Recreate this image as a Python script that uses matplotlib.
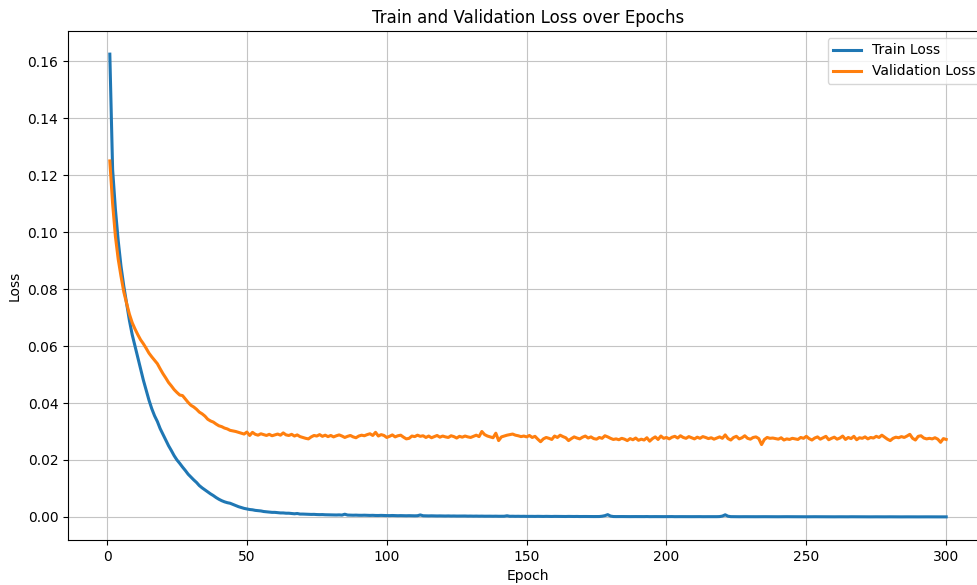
import matplotlib
matplotlib.use("Agg")
from matplotlib import pyplot as plt

# per-epoch losses
train_loss = [
    0.1625, 0.1220, 0.1080, 0.0970, 0.0880, 0.0810, 0.0750, 0.0690, 0.0640, 0.0600,
    0.0560, 0.0520, 0.0480, 0.0445, 0.0410, 0.0380, 0.0355, 0.0335, 0.0310, 0.0290,
    0.0270, 0.0250, 0.0233, 0.0215, 0.0200, 0.0188, 0.0175, 0.0163, 0.0150, 0.0140,
    0.0130, 0.0121, 0.0110, 0.0102, 0.0095, 0.0088, 0.0081, 0.0075, 0.0068, 0.0062,
    0.0057, 0.0053, 0.0050, 0.0048, 0.0044, 0.0040, 0.0036, 0.0033, 0.0030, 0.0028,
    0.0026, 0.0025, 0.0023, 0.0022, 0.0021, 0.0019, 0.0018, 0.0017, 0.0016, 0.0016,
    0.0015, 0.0014, 0.0014, 0.0013, 0.0013, 0.0012, 0.0011, 0.0012, 0.0010, 0.0010,
    0.00095, 0.00092, 0.00088, 0.00090, 0.00083, 0.00080, 0.00082, 0.00076, 0.00074, 0.00071,
    0.00070, 0.00068, 0.00072, 0.00065, 0.00095, 0.00066, 0.00062, 0.00060, 0.00063, 0.00058,
    0.00057, 0.00060, 0.00055, 0.00053, 0.00056, 0.00051, 0.00050, 0.00054, 0.00049, 0.00047,
    0.00046, 0.00050, 0.00045, 0.00043, 0.00046, 0.00042, 0.00041, 0.00044, 0.00040, 0.00039,
    0.00042, 0.00070, 0.00041, 0.00037, 0.00036, 0.00039, 0.00035, 0.00034, 0.00036, 0.00033,
    0.00032, 0.00035, 0.00031, 0.00033, 0.00030, 0.00031, 0.00029, 0.00032, 0.00028, 0.00030,
    0.00027, 0.00029, 0.00026, 0.00028, 0.00025, 0.00027, 0.00026, 0.00024, 0.00026, 0.00023,
    0.00025, 0.00024, 0.00040, 0.00022, 0.00024, 0.00021, 0.00023, 0.00020, 0.00022, 0.00019,
    0.00021, 0.00020, 0.00018, 0.00021, 0.00019, 0.00017, 0.00020, 0.00018, 0.00016, 0.00019,
    0.00017, 0.00018, 0.00016, 0.00015, 0.00018, 0.00016, 0.00015, 0.00017, 0.00014, 0.00016,
    0.00015, 0.00014, 0.00016, 0.00013, 0.00015, 0.00014, 0.00025, 0.00045, 0.00080, 0.00030,
    0.00014, 0.00012, 0.00014, 0.00013, 0.00012, 0.00014, 0.00011, 0.00013, 0.00012, 0.00011,
    0.00012, 0.00011, 0.00013, 0.00010, 0.00012, 0.00011, 0.00010, 0.00012, 0.00010, 0.00011,
    0.00010, 0.00012, 0.00009, 0.00011, 0.00010, 0.00009, 0.00011, 0.00010, 0.00009, 0.00010,
    0.00009, 0.00010, 0.00008, 0.00010, 0.00009, 0.00008, 0.00010, 0.00009, 0.00012, 0.00030,
    0.00075, 0.00025, 0.00010, 0.00008, 0.00009, 0.00007, 0.00009, 0.00008, 0.00007, 0.00009,
    0.00008, 0.00007, 0.00008, 0.00006, 0.00008, 0.00007, 0.00006, 0.00008, 0.00007, 0.00006,
    0.00007, 0.00006, 0.00008, 0.00006, 0.00007, 0.00006, 0.00005, 0.00007, 0.00006, 0.00005,
    0.00006, 0.00005, 0.00007, 0.00005, 0.00006, 0.00005, 0.00004, 0.00006, 0.00005, 0.00004,
    0.00006, 0.00005, 0.00004, 0.00005, 0.00004, 0.00006, 0.00004, 0.00005, 0.00004, 0.00003,
    0.00005, 0.00004, 0.00003, 0.00005, 0.00004, 0.00003, 0.00004, 0.00003, 0.00005, 0.00004,
    0.00003, 0.00004, 0.00003, 0.00002, 0.00004, 0.00003, 0.00002, 0.00004, 0.00003, 0.00002,
    0.00003, 0.00002, 0.00003, 0.00002, 0.00003, 0.00002, 0.00002, 0.00003, 0.00002, 0.00002,
]

val_loss = [
    0.1250, 0.1100, 0.0985, 0.0905, 0.0845, 0.0790, 0.0750, 0.0712, 0.0682, 0.0660,
    0.0640, 0.0622, 0.0608, 0.0592, 0.0575, 0.0562, 0.0550, 0.0538, 0.0520, 0.0503,
    0.0488, 0.0472, 0.0460, 0.0447, 0.0437, 0.0428, 0.0426, 0.0414, 0.0402, 0.0392,
    0.0386, 0.0378, 0.0368, 0.0362, 0.0354, 0.0343, 0.0337, 0.0333, 0.0326, 0.0320,
    0.0317, 0.0312, 0.0309, 0.0304, 0.0302, 0.0300, 0.0297, 0.0294, 0.0291, 0.0298,
    0.0286, 0.0297, 0.0290, 0.0287, 0.0292, 0.0289, 0.0286, 0.0290, 0.0285, 0.0288,
    0.0291, 0.0287, 0.0295, 0.0288, 0.0286, 0.0290, 0.0284, 0.0288, 0.0282, 0.0279,
    0.0276, 0.0274, 0.0281, 0.0286, 0.0284, 0.0289, 0.0283, 0.0287, 0.0282, 0.0286,
    0.0281, 0.0285, 0.0288, 0.0284, 0.0279, 0.0283, 0.0286, 0.0281, 0.0278, 0.0284,
    0.0287, 0.0285, 0.0289, 0.0292, 0.0286, 0.0297, 0.0284, 0.0289, 0.0286, 0.0279,
    0.0283, 0.0288, 0.0281, 0.0285, 0.0287, 0.0280, 0.0274, 0.0276, 0.0284, 0.0282,
    0.0287, 0.0283, 0.0285, 0.0279, 0.0284, 0.0278, 0.0282, 0.0286, 0.0280, 0.0284,
    0.0281, 0.0279, 0.0285, 0.0282, 0.0277, 0.0283, 0.0280, 0.0284, 0.0281, 0.0279,
    0.0283, 0.0287, 0.0282, 0.0300, 0.0289, 0.0284, 0.0281, 0.0278, 0.0294, 0.0268,
    0.0281, 0.0284, 0.0287, 0.0289, 0.0291, 0.0287, 0.0285, 0.0282, 0.0284, 0.0281,
    0.0286, 0.0279, 0.0283, 0.0273, 0.0264, 0.0274, 0.0279, 0.0276, 0.0272, 0.0284,
    0.0279, 0.0287, 0.0282, 0.0278, 0.0268, 0.0275, 0.0281, 0.0277, 0.0274, 0.0280,
    0.0284, 0.0277, 0.0281, 0.0275, 0.0273, 0.0279, 0.0276, 0.0285, 0.0281, 0.0276,
    0.0272, 0.0274, 0.0271, 0.0276, 0.0273, 0.0268, 0.0275, 0.0271, 0.0277, 0.0269,
    0.0273, 0.0270, 0.0278, 0.0266, 0.0275, 0.0281, 0.0272, 0.0284, 0.0276, 0.0279,
    0.0274, 0.0280, 0.0283, 0.0277, 0.0285, 0.0279, 0.0276, 0.0282, 0.0278, 0.0274,
    0.0280, 0.0276, 0.0282, 0.0279, 0.0275, 0.0278, 0.0273, 0.0277, 0.0281, 0.0276,
    0.0288, 0.0275, 0.0270, 0.0279, 0.0283, 0.0274, 0.0278, 0.0285, 0.0276, 0.0273,
    0.0279, 0.0281, 0.0275, 0.0254, 0.0272, 0.0279, 0.0276, 0.0277, 0.0275, 0.0273,
    0.0278, 0.0270, 0.0274, 0.0272, 0.0276, 0.0274, 0.0272, 0.0279, 0.0276, 0.0283,
    0.0275, 0.0270, 0.0277, 0.0281, 0.0273, 0.0278, 0.0283, 0.0271, 0.0276, 0.0280,
    0.0273, 0.0277, 0.0284, 0.0272, 0.0279, 0.0275, 0.0283, 0.0271, 0.0278, 0.0276,
    0.0281, 0.0274, 0.0279, 0.0277, 0.0283, 0.0279, 0.0287, 0.0280, 0.0273, 0.0268,
    0.0276, 0.0280, 0.0278, 0.0282, 0.0279, 0.0284, 0.0290, 0.0276, 0.0270, 0.0283,
    0.0285, 0.0277, 0.0274, 0.0276, 0.0274, 0.0278, 0.0273, 0.0262, 0.0275, 0.0272,
]

epochs = list(range(1, len(train_loss) + 1))

W, H = 977, 585
fig = plt.figure(figsize=(W / 100, H / 100), dpi=100)
# the reference is a crop: the right edge of the axes lies just past the image
ax = fig.add_axes([68 / W, 45 / H, 920 / W, 509 / H])

ax.plot(epochs, train_loss, color='#1f77b4', lw=2.2, label='Train Loss')
ax.plot(epochs, val_loss, color='#ff7f0e', lw=2.2, label='Validation Loss')

ax.set_title('Train and Validation Loss over Epochs', fontsize=12)
ax.set_xlabel('Epoch', fontsize=10)
ax.set_ylabel('Loss', fontsize=10)
ax.tick_params(labelsize=10)
ax.grid(True, color='#c4c4c4')
ax.legend(loc='upper right', fontsize=10)

fig.savefig('out.png', dpi=100)
